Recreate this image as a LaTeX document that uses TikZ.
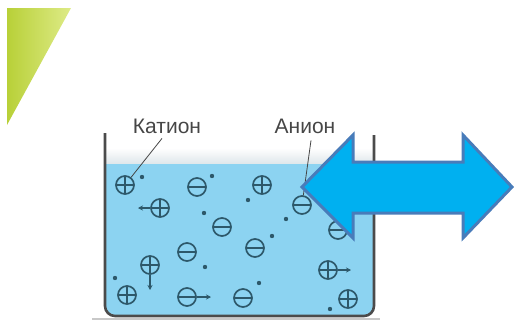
\documentclass[tikz,border=0pt]{standalone}
\usepackage{fontspec}
\setmainfont{Liberation Sans}
\usetikzlibrary{arrows.meta,calc}

\definecolor{liquid}{RGB}{140,211,241}
\definecolor{surface}{RGB}{222,230,234}
\definecolor{ionline}{RGB}{45,88,106}
\definecolor{wallgray}{RGB}{75,75,75}
\definecolor{basegray}{RGB}{200,200,200}
\definecolor{labelgray}{RGB}{70,70,70}
\definecolor{arrowfill}{RGB}{0,176,240}
\definecolor{arrowedge}{RGB}{72,124,186}
\definecolor{leafdark}{RGB}{184,208,56}
\definecolor{leaflight}{RGB}{222,235,135}

\tikzset{
  ion/.style={circle, draw=ionline, line width=1.7pt, minimum size=18pt, inner sep=0pt},
  cation/.style={ion, path picture={\draw[ionline, line width=1.6pt]
      (path picture bounding box.north) -- (path picture bounding box.south)
      (path picture bounding box.west) -- (path picture bounding box.east);}},
  anion/.style={ion, path picture={\draw[ionline, line width=1.6pt]
      (path picture bounding box.west) -- (path picture bounding box.east);}},
  trail/.style={circle, fill=ionline, minimum size=4.4pt, inner sep=0pt},
  motion/.style={ionline, line width=1.6pt, -{Stealth[length=5pt,width=5pt]}},
  tag/.style={font=\fontsize{21}{25}\selectfont, text=labelgray, inner sep=0pt, anchor=base},
  leader/.style={draw=labelgray, line width=0.8pt},
}

\begin{document}
\begin{tikzpicture}[x=1pt, y=-1pt]
  \useasboundingbox (0,0) rectangle (514,324);

  % green corner decoration
  \shade[left color=leafdark, right color=leaflight] (7,8) -- (71,8) -- (7,125) -- cycle;

  % table line under the vessel
  \draw[basegray, line width=2.5pt] (92,319) -- (380,319);

  % liquid with a soft surface band
  \shade[top color=white, bottom color=surface] (106,148) rectangle (373,164);
  \fill[liquid] (106,164) {[rounded corners=9pt] -- (106,315) -- (373,315)} -- (373,164) -- cycle;

  % vessel walls
  \draw[wallgray, line width=2.6pt, rounded corners=10pt]
    (105,133) -- (105,316) -- (374,316) -- (374,135);

  % ions
  \node[cation] (c1) at (125,185) {};
  \node[anion]  (a1) at (197,187) {};
  \node[cation] (c2) at (262,185) {};
  \node[anion]  (a2) at (302,205) {};
  \node[cation] (c3) at (160,208) {};
  \node[anion]  (a3) at (222,227) {};
  \node[anion]  (a4) at (338,230) {};
  \node[anion]  (a5) at (187,252) {};
  \node[anion]  (a6) at (255,248) {};
  \node[cation] (c4) at (150,265) {};
  \node[cation] (c5) at (328,270) {};
  \node[cation] (c6) at (127,295) {};
  \node[anion]  (a7) at (187,297) {};
  \node[anion]  (a8) at (243,298) {};
  \node[cation] (c7) at (348,299) {};

  % motion trails
  \node[trail] (t1) at (142,177) {};
  \node[trail] (t2) at (212,176) {};
  \node[trail] (t3) at (248,200) {};
  \node[trail] (t4) at (286,219) {};
  \node[trail] (t5) at (204,213) {};
  \node[trail] (t6) at (205,267) {};
  \node[trail] (t7) at (272,236) {};
  \node[trail] (t8) at (115,278) {};
  \node[trail] (t9) at (259,283) {};
  \node[trail] (t10) at (330,309) {};

  % motion arrows
  \coordinate (m1) at (138,208);
  \coordinate (m2) at (150,290);
  \coordinate (m3) at (351,270);
  \coordinate (m4) at (211,297);
  \draw[motion] (c3) -- (m1);
  \draw[motion] (c4) -- (m2);
  \draw[motion] (c5) -- (m3);
  \draw[motion] (a7) -- (m4);

  % labels and leaders
  \node[tag] (lk) at (167,133) {Катион};
  \node[tag] (la) at (305,133) {Анион};
  \draw[leader] ($(lk.south)+(-5,5)$) -- (c1);
  \draw[leader] ($(la.south)+(6,7)$) -- (a2);

  % double-headed block arrow
  \draw[fill=arrowfill, draw=arrowedge, line width=3pt, line join=miter]
    (302,187) -- (353,135) -- (353,162) -- (463,162) -- (463,135) -- (512,187)
    -- (463,238) -- (463,213) -- (353,213) -- (353,238) -- cycle;
\end{tikzpicture}
\end{document}
